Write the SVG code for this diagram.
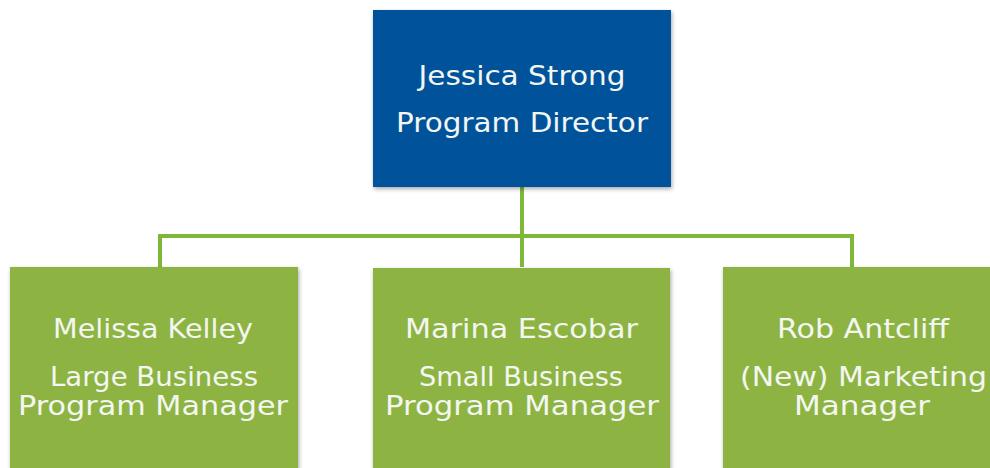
<svg xmlns="http://www.w3.org/2000/svg" width="990" height="468" viewBox="0 0 990 468">
<defs>
<filter id="sh" x="-5%" y="-5%" width="115%" height="115%">
<feGaussianBlur in="SourceAlpha" stdDeviation="2"/>
<feOffset dx="1" dy="2" result="b"/>
<feComponentTransfer><feFuncA type="linear" slope="0.35"/></feComponentTransfer>
<feMerge><feMergeNode/><feMergeNode in="SourceGraphic"/></feMerge>
</filter>
</defs>
<style>
.blue{fill:#00539A;}
.green{fill:#8DB443;}
.t{font-family:"DejaVu Sans","Liberation Sans",sans-serif;font-size:27px;fill:#F4F6F2;text-anchor:middle;lengthAdjust:spacingAndGlyphs;}
.c{stroke:#7DB83A;stroke-width:4;fill:none;}
</style>
<rect width="990" height="468" fill="#FFFFFF"/>
<g id="connectors">
<path class="c" d="M522 187 V267"/>
<path class="c" d="M160 267 V236 H852 V267"/>
</g>
<g id="node-director">
<rect class="blue" x="373" y="10" width="298" height="177" filter="url(#sh)"/>
<text class="t" x="522" y="85" textLength="207" lengthAdjust="spacingAndGlyphs">Jessica Strong</text>
<text class="t" x="522" y="132" textLength="252" lengthAdjust="spacingAndGlyphs">Program Director</text>
</g>
<g id="node-melissa">
<rect class="green" x="10" y="267" width="288" height="215" filter="url(#sh)"/>
<text class="t" x="153" y="338" textLength="200" lengthAdjust="spacingAndGlyphs">Melissa Kelley</text>
<text class="t" x="154" y="386" textLength="208" lengthAdjust="spacingAndGlyphs">Large Business</text>
<text class="t" x="153" y="415" textLength="270" lengthAdjust="spacingAndGlyphs">Program Manager</text>
</g>
<g id="node-marina">
<rect class="green" x="373" y="268" width="297" height="215" filter="url(#sh)"/>
<text class="t" x="521.5" y="338" textLength="233" lengthAdjust="spacingAndGlyphs">Marina Escobar</text>
<text class="t" x="521" y="386" textLength="204" lengthAdjust="spacingAndGlyphs">Small Business</text>
<text class="t" x="522" y="415" textLength="274" lengthAdjust="spacingAndGlyphs">Program Manager</text>
</g>
<g id="node-rob">
<rect class="green" x="723" y="267" width="278" height="215" filter="url(#sh)"/>
<text class="t" x="863" y="338" textLength="172" lengthAdjust="spacingAndGlyphs">Rob Antcliff</text>
<text class="t" x="863.5" y="386" textLength="247" lengthAdjust="spacingAndGlyphs">(New) Marketing</text>
<text class="t" x="862" y="415" textLength="136" lengthAdjust="spacingAndGlyphs">Manager</text>
</g>
</svg>
